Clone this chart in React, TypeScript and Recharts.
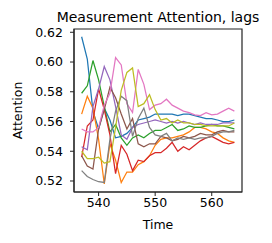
import React from 'react';
import { LineChart, Line, XAxis, YAxis, ReferenceArea } from 'recharts';

const times = [537, 538, 539, 540, 541, 542, 543, 544, 545, 546, 547, 548, 549, 550, 551, 552, 553, 554, 555, 556, 557, 558, 559, 560, 561, 562, 563, 564];

const lag0 = [0.617, 0.602, 0.567, 0.555, 0.569, 0.561, 0.549, 0.550, 0.552, 0.556, 0.561, 0.562, 0.563, 0.565, 0.565, 0.565, 0.565, 0.564, 0.565, 0.565, 0.564, 0.563, 0.562, 0.562, 0.561, 0.560, 0.560, 0.561];
const lag1 = [0.565, 0.577, 0.569, 0.548, 0.518, 0.545, 0.534, 0.519, 0.526, 0.526, 0.531, 0.533, 0.537, 0.544, 0.548, 0.549, 0.549, 0.550, 0.551, 0.553, 0.556, 0.556, 0.555, 0.553, 0.552, 0.549, 0.547, 0.546];
const lag2 = [0.579, 0.584, 0.601, 0.588, 0.570, 0.553, 0.558, 0.549, 0.544, 0.549, 0.551, 0.549, 0.552, 0.554, 0.554, 0.556, 0.558, 0.554, 0.555, 0.557, 0.556, 0.556, 0.557, 0.558, 0.557, 0.557, 0.556, 0.555];
const lag3 = [0.536, 0.557, 0.561, 0.582, 0.568, 0.551, 0.525, 0.544, 0.538, 0.527, 0.534, 0.533, 0.537, 0.539, 0.539, 0.542, 0.546, 0.540, 0.543, 0.541, 0.544, 0.547, 0.549, 0.550, 0.548, 0.546, 0.545, 0.546];
const lag4 = [0.543, 0.541, 0.570, 0.582, 0.597, 0.588, 0.570, 0.551, 0.548, 0.556, 0.558, 0.559, 0.560, 0.561, 0.560, 0.559, 0.560, 0.559, 0.560, 0.559, 0.558, 0.559, 0.558, 0.558, 0.558, 0.559, 0.559, 0.559];
const lag5 = [0.537, 0.530, 0.528, 0.555, 0.568, 0.583, 0.576, 0.565, 0.555, 0.562, 0.545, 0.543, 0.545, 0.545, 0.550, 0.549, 0.547, 0.548, 0.550, 0.549, 0.550, 0.552, 0.551, 0.551, 0.553, 0.554, 0.553, 0.553];
const lag6 = [0.555, 0.553, 0.553, 0.556, 0.571, 0.579, 0.603, 0.598, 0.572, 0.566, 0.595, 0.585, 0.568, 0.571, 0.572, 0.575, 0.571, 0.569, 0.567, 0.566, 0.5645, 0.564, 0.566, 0.5645, 0.565, 0.567, 0.569, 0.567];
const lag7 = [0.527, 0.523, 0.521, 0.5195, 0.519, 0.548, 0.567, 0.577, 0.574, 0.550, 0.562, 0.569, 0.556, 0.551, 0.550, 0.552, 0.547, 0.549, 0.548, 0.549, 0.548, 0.549, 0.549, 0.550, 0.552, 0.553, 0.553, 0.554];
const lag8 = [0.540, 0.535, 0.535, 0.536, 0.532, 0.533, 0.556, 0.581, 0.593, 0.596, 0.570, 0.572, 0.578, 0.568, 0.561, 0.562, 0.559, 0.561, 0.559, 0.559, 0.558, 0.558, 0.557, 0.557, 0.557, 0.557, 0.557, 0.559];

const seriesValues = [lag0, lag1, lag2, lag3, lag4, lag5, lag6, lag7, lag8];
const seriesColors = ['#1f77b4', '#ff7f0e', '#2ca02c', '#d62728', '#9467bd', '#8c564b', '#e377c2', '#7f7f7f', '#bcbd22'];

const yTicks = [0.52, 0.54, 0.56, 0.58, 0.6, 0.62];
const xTicks = [540, 550, 560];
const xDomain = [535.65, 565.35];
const yDomain = [0.5126, 0.6222];

const data = times.map((t, i) => {
  const row: Record<string, number> = { t };
  seriesValues.forEach((vals, k) => {
    row['s' + k] = vals[i];
  });
  return row;
});

const FONT = 'DejaVu Sans, sans-serif';
const tickStyle = { fontSize: 12.5, fill: '#000', fontFamily: FONT };

export default function App() {
  return (
    <div style={{ position: 'absolute', left: 0, top: 0, width: 272, height: 243, background: '#fff' }}>
      <div
        style={{
          position: 'absolute',
          left: 74,
          width: 168,
          top: 9,
          fontFamily: FONT,
          fontSize: 14,
          color: '#000',
          whiteSpace: 'nowrap',
          lineHeight: '16px',
          display: 'flex',
          justifyContent: 'center',
        }}
      >
        Measurement Attention, lags
      </div>
      <LineChart width={272} height={243} data={data} margin={{ top: 29, right: 30, left: 0, bottom: 0 }}>
        <XAxis
          dataKey="t"
          type="number"
          domain={xDomain}
          ticks={xTicks}
          allowDataOverflow
          height={51}
          tickSize={4}
          tickMargin={2}
          tick={tickStyle}
          stroke="#222"
          tickLine={{ stroke: '#222' }}
          axisLine={{ stroke: '#222' }}
          label={{
            content: (p: any) => {
              const vb = p.viewBox;
              return (
                <text x={vb.x + vb.width / 2} y={vb.y + 37} textAnchor="middle" fontSize={12.5} fontFamily={FONT} fill="#000">
                  Time
                </text>
              );
            },
          }}
        />
        <YAxis
          type="number"
          domain={yDomain}
          ticks={yTicks}
          allowDataOverflow
          width={74}
          tickSize={4}
          tickMargin={7}
          tick={tickStyle}
          tickFormatter={(v: number) => v.toFixed(2)}
          stroke="#222"
          tickLine={{ stroke: '#222' }}
          axisLine={{ stroke: '#222' }}
          label={{
            content: (p: any) => {
              const vb = p.viewBox;
              const cx = vb.x + 17;
              const cy = vb.y + vb.height / 2;
              return (
                <text x={cx} y={cy} transform={`rotate(-90, ${cx}, ${cy})`} textAnchor="middle" dominantBaseline="central" fontSize={12.5} fontFamily={FONT} fill="#000">
                  Attention
                </text>
              );
            },
          }}
        />
        {seriesValues.map((_, k) => (
          <Line
            key={k}
            dataKey={'s' + k}
            stroke={seriesColors[k]}
            strokeWidth={1.25}
            dot={false}
            isAnimationActive={false}
          />
        ))}
        <ReferenceArea
          x1={xDomain[0]}
          x2={xDomain[1]}
          y1={yDomain[0]}
          y2={yDomain[1]}
          fill="none"
          fillOpacity={0}
          stroke="#222"
          strokeWidth={1.2}
          ifOverflow="visible"
        />
      </LineChart>
    </div>
  );
}
